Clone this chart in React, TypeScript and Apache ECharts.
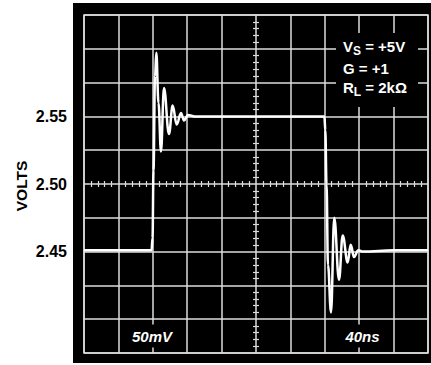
import React, { useEffect, useRef } from "react";
import * as echarts from "echarts";

// Time (ns) of each traced point, 40 ns per division
const TIME_NS = [
  0, 40, 78.5, 79.7, 80.8, 82.6, 84.1, 86.6, 89.5, 93.0, 98.8, 103.1, 107.8,
  112.8, 116.3, 120.9, 129, 200, 279.5, 280.6, 282.0, 283.7, 287.2, 291.0,
  296.5, 300.8, 306.6, 310.1, 314.0, 319.0, 324, 360, 400,
];
// Output voltage (V)
const VOLTS = [
  2.451, 2.451, 2.451, 2.46, 2.51, 2.58, 2.597, 2.56, 2.524, 2.571, 2.537,
  2.558, 2.544, 2.5525, 2.547, 2.551, 2.55, 2.55, 2.55, 2.54, 2.5, 2.44,
  2.405, 2.475, 2.429, 2.462, 2.442, 2.455, 2.446, 2.451, 2.45, 2.451, 2.451,
];
const Y_TICK_LABELS = ["2.45", "2.50", "2.55"];
const Y_TITLE = "VOLTS";
const SCALE_LEFT = "50mV";
const SCALE_RIGHT = "40ns";

const FONT = "'Liberation Sans', Arial, Helvetica, sans-serif";
const GRID_COLOR = "#dcdcdc";

export default function App() {
  const ref = useRef<HTMLDivElement>(null);
  useEffect(() => {
    if (!ref.current) return;
    const chart = echarts.init(ref.current, null, { renderer: "svg" });
    const gridPos = { left: 84, top: 15, width: 344, height: 338 };
    const main = { fontSize: 15, fontWeight: "bold", fontFamily: FONT, fill: "#fff", lineHeight: 22, verticalAlign: "middle" };
    const sub = { fontSize: 12, fontWeight: "bold", fontFamily: FONT, fill: "#fff", lineHeight: 22, verticalAlign: "bottom" };
    const overlayX = (gi: number, inside: boolean) => ({
      type: "value", gridIndex: gi, min: -200, max: 200, interval: 40, splitNumber: 10,
      axisLine: { show: false, onZero: true },
      axisTick: { show: false, inside },
      minorTick: { show: true, splitNumber: 5, length: 3, lineStyle: { color: GRID_COLOR, width: 1.2 } },
      axisLabel: { show: false }, splitLine: { show: false },
    });
    const overlayY = (gi: number, inside: boolean) => ({
      type: "value", gridIndex: gi, min: -0.125, max: 0.125, interval: 0.025,
      axisLine: { show: false, onZero: true },
      axisTick: { show: false, inside },
      minorTick: { show: true, splitNumber: 5, length: 3, lineStyle: { color: GRID_COLOR, width: 1.2 } },
      axisLabel: { show: false }, splitLine: { show: false },
    });
    chart.setOption({
      animation: false,
      grid: [
        { ...gridPos, show: true, borderColor: GRID_COLOR, borderWidth: 1.5, outerBoundsMode: "none", containLabel: false },
        { ...gridPos, outerBoundsMode: "none", containLabel: false },
        { ...gridPos, outerBoundsMode: "none", containLabel: false },
      ],
      xAxis: [
        {
          type: "value", gridIndex: 0, min: 0, max: 400, interval: 40,
          axisLine: { show: false }, axisTick: { show: false }, axisLabel: { show: false },
          splitLine: { show: true, lineStyle: { color: GRID_COLOR, width: 1.5 } },
        },
        overlayX(1, false),
        overlayX(2, true),
      ],
      yAxis: [
        {
          type: "value", gridIndex: 0, min: 2.375, max: 2.625, interval: 0.025,
          axisLine: { show: false }, axisTick: { show: false },
          axisLabel: {
            margin: 17, color: "#000", fontSize: 16, fontWeight: "bold", fontFamily: FONT,
            formatter: (v: number) => {
              const s = v.toFixed(2);
              return Math.abs(v * 100 - Math.round(v * 100)) < 1e-6 && Y_TICK_LABELS.includes(s) ? s : "";
            },
          },
          splitLine: { show: true, lineStyle: { color: GRID_COLOR, width: 1.5 } },
        },
        overlayY(1, false),
        overlayY(2, true),
      ],
      series: [
        {
          type: "line", xAxisIndex: 0, yAxisIndex: 0, showSymbol: false, symbol: "none",
          smooth: 0.4, smoothMonotone: "x",
          data: TIME_NS.map((t, i) => [t, VOLTS[i]]),
          lineStyle: { color: "#fff", width: 2.5 }, z: 5,
        },
      ],
      graphic: [
        { type: "rect", z: -100, shape: { x: 73, y: 3, width: 358, height: 360 }, style: { fill: "#000" } },
        {
          type: "text", x: 21.5, y: 186, rotation: Math.PI / 2,
          style: { text: Y_TITLE, fill: "#000", fontSize: 15.5, fontWeight: "bold", fontFamily: FONT, align: "center", verticalAlign: "middle" },
        },
        { type: "rect", z: 100, shape: { x: 336, y: 33, width: 82, height: 74 }, style: { fill: "#000" } },
        {
          type: "text", z: 101, x: 343, y: 46,
          style: { text: "{m|V}{s|S}{m| = +5V}", verticalAlign: "middle", rich: { m: main, s: sub } },
        },
        {
          type: "text", z: 101, x: 343, y: 68,
          style: { text: "{m|G = +1}", verticalAlign: "middle", rich: { m: main, s: sub } },
        },
        {
          type: "text", z: 101, x: 343, y: 87,
          style: { text: "{m|R}{s|L}{m| = 2kΩ}", verticalAlign: "middle", rich: { m: main, s: sub } },
        },
        {
          type: "text", z: 101, x: 152, y: 336,
          style: {
            text: SCALE_LEFT, fill: "#fff", fontSize: 15, fontWeight: "bold", fontStyle: "italic", fontFamily: FONT,
            align: "center", verticalAlign: "middle", backgroundColor: "#000", padding: [4, 4],
          },
        },
        {
          type: "text", z: 101, x: 362.5, y: 336,
          style: {
            text: SCALE_RIGHT, fill: "#fff", fontSize: 15, fontWeight: "bold", fontStyle: "italic", fontFamily: FONT,
            align: "center", verticalAlign: "middle", backgroundColor: "#000", padding: [4, 4],
          },
        },
      ],
    });
    return () => chart.dispose();
  }, []);
  return <div ref={ref} style={{ position: "fixed", left: 0, top: 0, width: 431, height: 365, background: "#fff" }} />;
}
